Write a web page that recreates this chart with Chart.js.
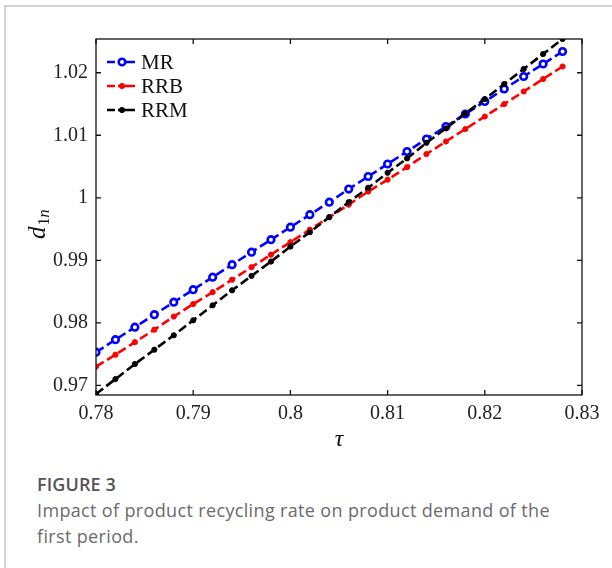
<!DOCTYPE html>
<html>
<head>
<meta charset="utf-8">
<script src="https://cdn.jsdelivr.net/npm/chart.js@4"></script>
<style>
    body { margin: 0; background: #fff; width: 612px; height: 568px; overflow: hidden; position: relative; }
    #frame { position: absolute; left: 4px; top: 5px; width: 640px; height: 600px; border-left: 2px solid #d4d4d4; border-top: 2px solid #d4d4d4; }
    #chartBox { position: absolute; left: 0; top: 0; width: 612px; height: 460px; }
    #caption { position: absolute; left: 37px; top: 471px; width: 515px; font-family: "Open Sans", Lato, sans-serif; color: #6b6b6b; }
    #caption .fig { font-size: 18px; font-weight: 600; color: #555; line-height: 26px; letter-spacing: 0.1px; }
    #caption .txt { font-size: 18px; line-height: 26px; letter-spacing: 0.35px; }
</style>
</head>
<body>
<div id="frame"></div>
<div id="chartBox"><canvas id="chart" width="612" height="460"></canvas></div>
<div id="caption">
    <div class="fig">FIGURE 3</div>
    <div class="txt">Impact of product recycling rate on product demand of the first period.</div>
</div>
<script>
document.addEventListener('DOMContentLoaded', function () {
    const tau = [0.780, 0.782, 0.784, 0.786, 0.788, 0.790, 0.792, 0.794, 0.796, 0.798,
                 0.800, 0.802, 0.804, 0.806, 0.808, 0.810, 0.812, 0.814, 0.816, 0.818,
                 0.820, 0.822, 0.824, 0.826, 0.828];
    const mr  = [0.9753, 0.9773, 0.9793, 0.9813, 0.9833, 0.9853, 0.9873, 0.9893, 0.9913, 0.9933,
                 0.9953, 0.9973, 0.9993, 1.0014, 1.0034, 1.0054, 1.0074, 1.0094, 1.0114, 1.0134,
                 1.0154, 1.0174, 1.0194, 1.0214, 1.0234];
    const rrb = [0.9730, 0.9749, 0.9769, 0.9789, 0.9810, 0.9830, 0.9849, 0.9869, 0.9889, 0.9909,
                 0.9929, 0.9949, 0.9969, 0.9989, 1.0010, 1.0029, 1.0049, 1.0070, 1.0090, 1.0110,
                 1.0130, 1.0150, 1.0170, 1.0190, 1.0210];
    const rrm = [0.9686, 0.9710, 0.9734, 0.9757, 0.9780, 0.9804, 0.9828, 0.9852, 0.9875, 0.9898,
                 0.9922, 0.9945, 0.9969, 0.9993, 1.0016, 1.0040, 1.0063, 1.0088, 1.0111, 1.0135,
                 1.0158, 1.0182, 1.0206, 1.0230, 1.0254];

    const xTicks = [0.78, 0.79, 0.80, 0.81, 0.82, 0.83];
    const xTickLabels = ['0.78', '0.79', '0.8', '0.81', '0.82', '0.83'];
    const yTicks = [0.97, 0.98, 0.99, 1.00, 1.01, 1.02];
    const yTickLabels = ['0.97', '0.98', '0.99', '1', '1.01', '1.02'];

    const serif = '"Liberation Serif", "Times New Roman", serif';
    const toPoints = arr => arr.map((v, i) => ({ x: tau[i], y: v }));

    // box, inner ticks, legend and axis titles
    const decorations = {
        id: 'decorations',
        afterDraw(chart) {
            const c = chart.ctx;
            const a = chart.chartArea;
            const xs = chart.scales.x, ys = chart.scales.y;
            c.save();
            c.strokeStyle = '#111';
            c.lineWidth = 1.3;
            c.strokeRect(a.left, a.top, a.right - a.left, a.bottom - a.top);
            c.beginPath();
            xTicks.forEach(t => {
                const px = xs.getPixelForValue(t);
                c.moveTo(px, a.bottom); c.lineTo(px, a.bottom - 5);
                c.moveTo(px, a.top); c.lineTo(px, a.top + 5);
            });
            yTicks.forEach(t => {
                const py = ys.getPixelForValue(t);
                c.moveTo(a.left, py); c.lineTo(a.left + 5, py);
                c.moveTo(a.right, py); c.lineTo(a.right - 5, py);
            });
            c.stroke();

            // legend
            let ly = 62;
            chart.data.datasets.forEach(ds => {
                const x0 = a.left + 11;
                c.strokeStyle = ds.borderColor;
                c.lineWidth = 2.6;
                c.beginPath();
                c.moveTo(x0, ly); c.lineTo(x0 + 8, ly);
                c.moveTo(x0 + 11, ly); c.lineTo(x0 + 28, ly);
                c.stroke();
                c.beginPath();
                c.arc(x0 + 15, ly, ds.pointRadius, 0, Math.PI * 2);
                c.fillStyle = ds.pointBackgroundColor;
                c.fill();
                c.lineWidth = ds.pointBorderWidth;
                c.strokeStyle = ds.borderColor;
                c.stroke();
                c.fillStyle = '#111';
                c.font = '21px ' + serif;
                c.textBaseline = 'middle';
                c.fillText(ds.label, x0 + 34, ly + 1);
                ly += 24;
            });

            // x title
            c.fillStyle = '#111';
            c.font = 'italic 24px ' + serif;
            c.textAlign = 'center';
            c.textBaseline = 'alphabetic';
            c.fillText('\u03c4', (a.left + a.right) / 2, 446);

            // y title d_{1n}
            c.translate(45, (a.top + a.bottom) / 2 + 22);
            c.rotate(-Math.PI / 2);
            c.textAlign = 'left';
            c.font = 'italic 25px ' + serif;
            c.fillText('d', 0, 0);
            const dw = c.measureText('d').width;
            c.font = '16px ' + serif;
            c.fillText('1', dw + 1, 4);
            const ow = c.measureText('1').width;
            c.font = 'italic 16px ' + serif;
            c.fillText('n', dw + 1 + ow, 4);
            c.restore();
        }
    };

    new Chart(document.getElementById('chart').getContext('2d'), {
        type: 'line',
        data: {
            datasets: [
                {
                    label: 'MR', data: toPoints(mr), order: 3,
                    borderColor: '#0000ff', borderWidth: 2.6, borderDash: [9, 4],
                    pointRadius: 3.3, pointBorderWidth: 2.6, pointBackgroundColor: '#ffffff', pointBorderColor: '#0000ff'
                },
                {
                    label: 'RRB', data: toPoints(rrb), order: 2,
                    borderColor: '#ff0000', borderWidth: 2.6, borderDash: [9, 4],
                    pointRadius: 2.6, pointBorderWidth: 1, pointBackgroundColor: '#ff0000', pointBorderColor: '#ff0000'
                },
                {
                    label: 'RRM', data: toPoints(rrm), order: 1,
                    borderColor: '#000000', borderWidth: 2.6, borderDash: [9, 4],
                    pointRadius: 2.6, pointBorderWidth: 1, pointBackgroundColor: '#000000', pointBorderColor: '#000000'
                }
            ]
        },
        options: {
            responsive: false,
            animation: false,
            layout: { padding: { left: 0, top: 39, right: 30, bottom: 0 } },
            plugins: { legend: { display: false }, tooltip: { enabled: false } },
            scales: {
                x: {
                    type: 'linear', min: 0.78, max: 0.83,
                    afterBuildTicks: s => { s.ticks = xTicks.map(v => ({ value: v })); },
                    afterFit: s => { s.height = 65; },
                    grid: { display: false, drawTicks: false },
                    border: { display: false },
                    ticks: {
                        padding: 7, color: '#222', font: { family: serif, size: 20 },
                        maxRotation: 0, autoSkip: false,
                        callback: (v, i) => xTickLabels[i]
                    }
                },
                y: {
                    type: 'linear', min: 0.96845, max: 1.0254,
                    afterBuildTicks: s => { s.ticks = yTicks.map(v => ({ value: v })); },
                    afterFit: s => { s.width = 96; },
                    grid: { display: false, drawTicks: false },
                    border: { display: false },
                    ticks: {
                        padding: 8, color: '#222', font: { family: serif, size: 20 },
                        autoSkip: false,
                        callback: (v, i) => yTickLabels[i]
                    }
                }
            }
        },
        plugins: [decorations]
    });
});
</script>
</body>
</html>
